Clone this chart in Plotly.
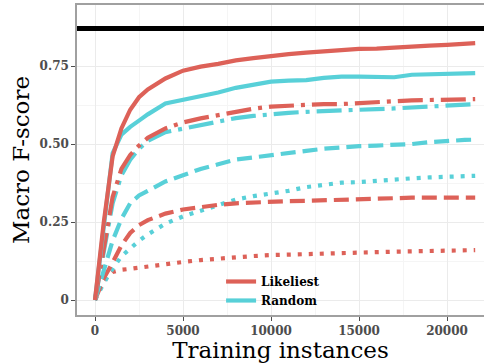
import plotly.graph_objects as go

instances = [0, 500, 1000, 1500, 2000, 2500, 3000, 4000, 5000, 6000, 7000, 8000, 9000,
             10000, 11000, 12000, 13000, 14000, 15000, 16000, 17000, 18000, 19000,
             20000, 21000, 21600]

likeliest_solid = [0, 0.25, 0.46, 0.55, 0.61, 0.65, 0.675, 0.71, 0.735, 0.748, 0.757, 0.768, 0.775,
                   0.783, 0.788, 0.793, 0.797, 0.802, 0.805, 0.806, 0.808, 0.812, 0.815, 0.818, 0.820, 0.823]
random_solid = [0, 0.24, 0.47, 0.53, 0.555, 0.575, 0.595, 0.63, 0.642, 0.652, 0.665, 0.68, 0.69,
                0.70, 0.703, 0.705, 0.712, 0.716, 0.716, 0.716, 0.714, 0.722, 0.724, 0.726, 0.725, 0.727]
likeliest_dashdot = [0, 0.16, 0.33, 0.42, 0.465, 0.495, 0.52, 0.55, 0.569, 0.582, 0.593, 0.605, 0.613,
                     0.62, 0.623, 0.626, 0.628, 0.628, 0.632, 0.635, 0.637, 0.64, 0.64, 0.642, 0.643, 0.644]
random_dashdot = [0, 0.15, 0.31, 0.40, 0.45, 0.485, 0.51, 0.538, 0.55, 0.561, 0.572, 0.583, 0.59,
                  0.596, 0.60, 0.603, 0.606, 0.608, 0.612, 0.612, 0.614, 0.617, 0.618, 0.622, 0.626, 0.628]
random_dashed = [0, 0.09, 0.19, 0.26, 0.31, 0.335, 0.35, 0.38, 0.40, 0.42, 0.435, 0.45, 0.457,
                 0.465, 0.47, 0.478, 0.485, 0.49, 0.493, 0.495, 0.497, 0.50, 0.506, 0.511, 0.513, 0.514]
likeliest_dashed = [0, 0.07, 0.12, 0.175, 0.215, 0.24, 0.256, 0.277, 0.29, 0.299, 0.305, 0.31, 0.313,
                    0.315, 0.317, 0.318, 0.32, 0.321, 0.322, 0.324, 0.326, 0.328, 0.328, 0.328, 0.328, 0.328]
random_dotted = [0, 0.055, 0.10, 0.14, 0.165, 0.19, 0.21, 0.245, 0.268, 0.285, 0.305, 0.322, 0.333,
                 0.34, 0.35, 0.362, 0.37, 0.376, 0.378, 0.383, 0.387, 0.39, 0.393, 0.395, 0.397, 0.398]
likeliest_dotted = [0, 0.064, 0.09, 0.097, 0.10, 0.104, 0.107, 0.115, 0.122, 0.128, 0.133, 0.138, 0.141,
                    0.144, 0.146, 0.148, 0.15, 0.152, 0.153, 0.154, 0.155, 0.156, 0.157, 0.158, 0.159, 0.16]

upper_bound = 0.87

x_ticks = [0, 5000, 10000, 15000, 20000]
x_tick_labels = ["0", "5000", "10000", "15000", "20000"]
y_ticks = [0, 0.25, 0.5, 0.75]
y_tick_labels = ["0", "0.25", "0.50", "0.75"]

RED = "#DD6158"
CYAN = "#58D0D8"
LW = 4.2
DOT = "4px,7px"
DASH = "15px,7px"
DASHDOT = "25px,7px,4px,7px"

fig = go.Figure()

series = [
    (likeliest_dotted, RED, DOT),
    (random_dotted, CYAN, DOT),
    (likeliest_dashed, RED, DASH),
    (random_dashed, CYAN, DASH),
    (random_dashdot, CYAN, DASHDOT),
    (likeliest_dashdot, RED, DASHDOT),
    (random_solid, CYAN, "solid"),
    (likeliest_solid, RED, "solid"),
]
for ys, col, dash in series:
    fig.add_trace(go.Scatter(x=instances, y=ys, mode="lines",
                             line=dict(color=col, width=LW, dash=dash),
                             showlegend=False, hoverinfo="skip"))

fig.add_trace(go.Scatter(x=[None], y=[None], mode="lines", name="Likeliest",
                         line=dict(color=RED, width=LW)))
fig.add_trace(go.Scatter(x=[None], y=[None], mode="lines", name="Random",
                         line=dict(color=CYAN, width=LW)))

fig.add_shape(type="line", xref="paper", yref="y", x0=0, x1=1, y0=upper_bound, y1=upper_bound,
              line=dict(color="black", width=5))

fig.update_layout(
    width=484, height=363,
    margin=dict(l=77, r=0, t=5, b=48),
    plot_bgcolor="white", paper_bgcolor="white",
    font=dict(family="DejaVu Serif"),
    xaxis=dict(
        range=[-1023, 22100], tickvals=x_ticks, ticktext=x_tick_labels,
        tickfont=dict(family="DejaVu Serif", size=12, color="#4D4D4D", weight="bold"),
        ticks="outside", ticklen=4, tickcolor="#4D4D4D",
        showgrid=True, gridcolor="#EBEBEB", gridwidth=1.2,
        minor=dict(tickmode="linear", tick0=2500, dtick=5000, showgrid=True, gridcolor="#F5F5F5", gridwidth=1, ticks=""),
        showline=True, linecolor="#A0A0A0", linewidth=1.5, mirror=True,
        zeroline=False, automargin=False,
        title=dict(text="Training instances", font=dict(family="DejaVu Serif", size=23, color="black"), standoff=2),
    ),
    yaxis=dict(
        range=[-0.048, 0.9455], tickvals=y_ticks, ticktext=y_tick_labels,
        tickfont=dict(family="DejaVu Serif", size=12, color="#4D4D4D", weight="bold"),
        ticks="outside", ticklen=4, tickcolor="#4D4D4D",
        showgrid=True, gridcolor="#EBEBEB", gridwidth=1.2,
        minor=dict(tickmode="linear", tick0=0.125, dtick=0.25, showgrid=True, gridcolor="#F5F5F5", gridwidth=1, ticks=""),
        showline=True, linecolor="#A0A0A0", linewidth=1.5, mirror=True,
        zeroline=False, automargin=False,
        title=dict(text="Macro F-score", font=dict(family="DejaVu Serif", size=23, color="black"), standoff=4),
    ),
    legend=dict(
        x=0.354, y=0.0, xanchor="left", yanchor="bottom",
        bgcolor="rgba(255,255,255,0)",
        font=dict(family="DejaVu Serif", size=12, color="black", weight="bold"),
        itemwidth=30, tracegroupgap=0,
    ),
)

fig.write_html("out.html", config={"displayModeBar": False},
               post_script="document.body.style.margin='0';document.body.style.overflow='hidden';")
